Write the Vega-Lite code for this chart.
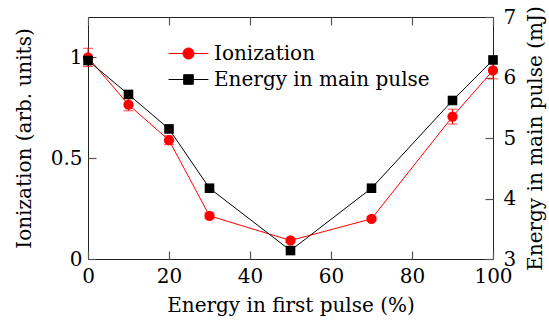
{
  "$schema": "https://vega.github.io/schema/vega-lite/v6.json",
  "width": 405,
  "height": 242,
  "autosize": {"type": "none"},
  "padding": {"left": 88, "top": 17, "right": 56, "bottom": 72},
  "background": "white",
  "config": {
    "font": "DejaVu Serif",
    "view": {"stroke": "#222", "strokeWidth": 1},
    "axis": {
      "grid": false,
      "domain": false,
      "ticks": true,
      "tickColor": "#555",
      "tickWidth": 1.2,
      "tickSize": 8,
      "offset": -8,
      "zindex": 1,
      "labelFont": "DejaVu Serif",
      "titleFont": "DejaVu Serif",
      "labelFontSize": 20,
      "titleFontSize": 20,
      "labelColor": "black",
      "titleColor": "black",
      "titleFontWeight": "normal",
      "labelFlush": false,
      "labelOverlap": false
    },
    "legend": {
      "labelFont": "DejaVu Serif",
      "labelFontSize": 20,
      "labelColor": "black",
      "labelLimit": 0
    }
  },
  "datasets": {
    "main": [
      {"x": 0, "ion": 1.0, "ion_lo": 0.955, "ion_hi": 1.045, "energy": 6.28},
      {"x": 10, "ion": 0.765, "ion_lo": 0.735, "ion_hi": 0.797, "energy": 5.72},
      {"x": 20, "ion": 0.589, "ion_lo": 0.567, "ion_hi": 0.611, "energy": 5.15},
      {"x": 30, "ion": 0.214, "ion_lo": 0.2, "ion_hi": 0.228, "energy": 4.17},
      {"x": 50, "ion": 0.092, "ion_lo": 0.082, "ion_hi": 0.102, "energy": 3.14},
      {"x": 70, "ion": 0.199, "ion_lo": 0.189, "ion_hi": 0.209, "energy": 4.17},
      {"x": 90, "ion": 0.706, "ion_lo": 0.669, "ion_hi": 0.743, "energy": 5.62},
      {"x": 100, "ion": 0.935, "ion_lo": 0.893, "ion_hi": 0.977, "energy": 6.29}
    ],
    "legend": [
      {"series": "Ionization"},
      {"series": "Energy in main pulse"}
    ]
  },
  "layer": [
    {
      "data": {"name": "main"},
      "layer": [
        {
          "mark": {"type": "errorbar", "color": "red", "ticks": true, "size": 10, "thickness": 1},
          "encoding": {
            "x": {"field": "x", "type": "quantitative", "title": "Energy in first pulse (%)",
                  "scale": {"domain": [0, 100], "nice": false},
                  "axis": {"values": [0, 20, 40, 60, 80, 100], "labelPadding": 7, "titlePadding": 9}},
            "y": {"field": "ion_lo", "type": "quantitative", "title": "Ionization (arb. units)",
                  "scale": {"domain": [0, 1.2], "nice": false},
                  "axis": {"values": [0, 0.5, 1], "format": "~g", "labelPadding": 6, "titlePadding": 16}},
            "y2": {"field": "ion_hi"}
          }
        },
        {
          "mark": {"type": "line", "color": "red", "strokeWidth": 1},
          "encoding": {
            "x": {"field": "x", "type": "quantitative", "title": "Energy in first pulse (%)"},
            "y": {"field": "ion", "type": "quantitative", "title": "Ionization (arb. units)"}
          }
        },
        {
          "mark": {"type": "point", "shape": "circle", "filled": true, "color": "red", "size": 105, "opacity": 1},
          "encoding": {
            "x": {"field": "x", "type": "quantitative", "title": "Energy in first pulse (%)"},
            "y": {"field": "ion", "type": "quantitative", "title": "Ionization (arb. units)"}
          }
        },
        {
          "data": {"name": "legend"},
          "mark": {"type": "point", "filled": true, "opacity": 0},
          "encoding": {
            "fill": {
              "field": "series", "type": "nominal",
              "scale": {"domain": ["Ionization", "Energy in main pulse"], "range": ["red", "black"]},
              "legend": {
                "title": null, "orient": "none", "legendX": 85, "legendY": 21,
                "symbolSize": 900, "symbolStrokeWidth": 1, "labelOffset": 10, "rowPadding": 0,
                "symbolOpacity": 1, "padding": 0, "labelLimit": 0,
                "encode": {"symbols": {"update": {
                  "stroke": {"signal": "datum.value === 'Ionization' ? 'red' : 'black'"},
                  "opacity": {"value": 1}
                }}}
              }
            },
            "shape": {
              "field": "series", "type": "nominal",
              "scale": {"domain": ["Ionization", "Energy in main pulse"],
                        "range": ["M-1.33,0H1.33M0.37,0A0.37,0.37 0 1 1 -0.37,0A0.37,0.37 0 1 1 0.37,0Z",
                                  "M-1.33,0H1.33M-0.32,-0.32H0.32V0.32H-0.32Z"]},
              "legend": {
                "title": null, "orient": "none", "legendX": 85, "legendY": 21,
                "symbolSize": 900, "symbolStrokeWidth": 1, "labelOffset": 10, "rowPadding": 0,
                "symbolOpacity": 1, "padding": 0, "labelLimit": 0,
                "encode": {"symbols": {"update": {
                  "stroke": {"signal": "datum.value === 'Ionization' ? 'red' : 'black'"},
                  "opacity": {"value": 1}
                }}}
              }
            }
          }
        }
      ]
    },
    {
      "data": {"name": "main"},
      "layer": [
        {
          "mark": {"type": "line", "color": "black", "strokeWidth": 1},
          "encoding": {
            "x": {"field": "x", "type": "quantitative", "title": null,
                  "scale": {"domain": [0, 100], "nice": false},
                  "axis": {"orient": "top", "values": [0, 20, 40, 60, 80, 100], "labels": false, "title": null}},
            "y": {"field": "energy", "type": "quantitative", "title": "Energy in main pulse (mJ)",
                  "scale": {"domain": [3, 7], "nice": false},
                  "axis": {"orient": "right", "values": [3, 4, 5, 6, 7], "format": "d", "labelPadding": 10, "titlePadding": 10, "titleAngle": -90, "titleBaseline": "top"}}
          }
        },
        {
          "mark": {"type": "square", "filled": true, "color": "black", "size": 92, "opacity": 1},
          "encoding": {
            "x": {"field": "x", "type": "quantitative", "title": null},
            "y": {"field": "energy", "type": "quantitative", "title": "Energy in main pulse (mJ)"}
          }
        }
      ]
    }
  ],
  "resolve": {"scale": {"y": "independent"}, "axis": {"x": "independent"}}
}
